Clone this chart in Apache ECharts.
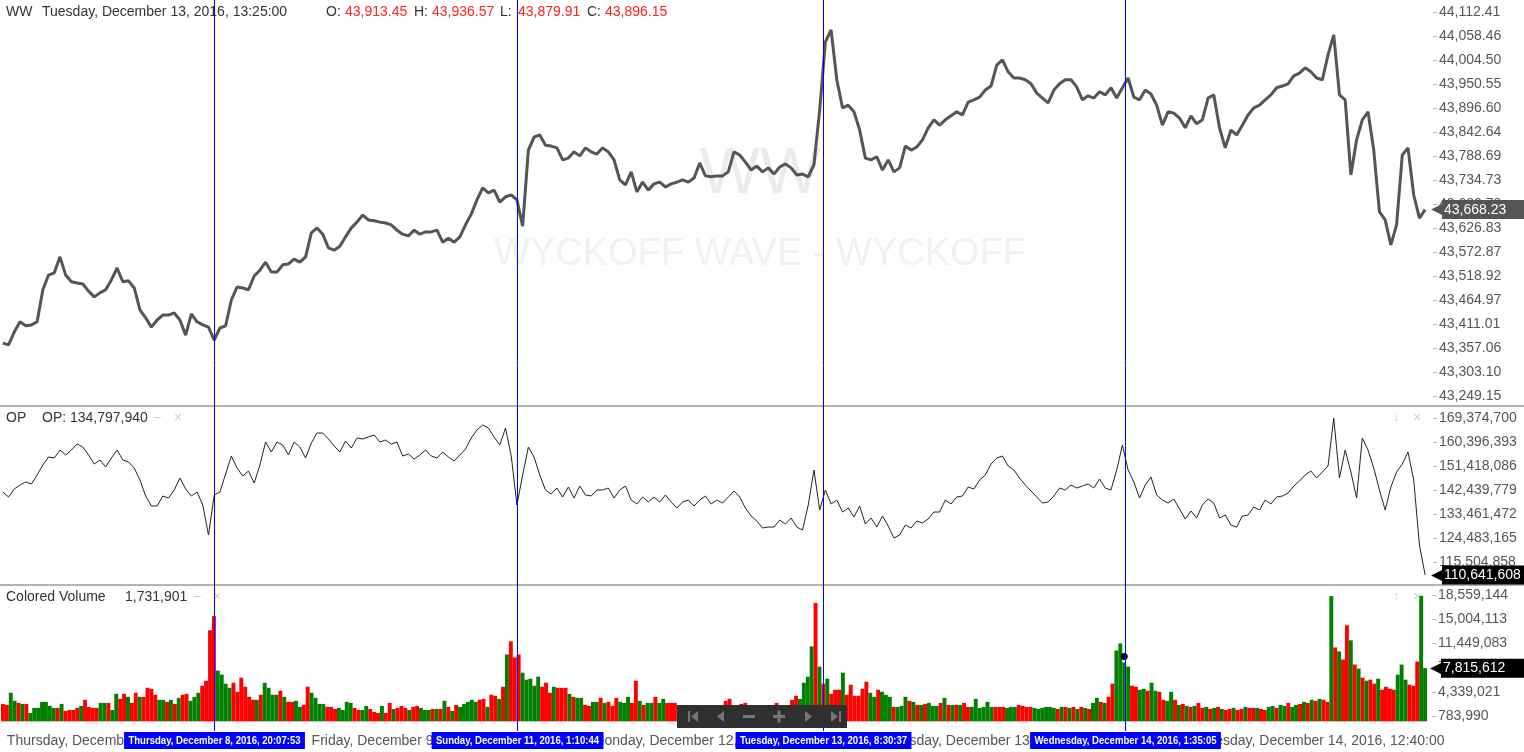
<!DOCTYPE html>
<html>
<head>
<meta charset="utf-8">
<title>WW - Wyckoff Wave</title>
<script src="https://cdn.jsdelivr.net/npm/echarts@6/dist/echarts.min.js"></script>
<style>
  html, body { margin: 0; padding: 0; background: #fff; }
  #chart { width: 1524px; height: 752px; }
</style>
</head>
<body>
<div id="chart"></div>
<script>
// WW close, one value per bar of the upper pane
var price = [
  43368, 43364, 43393, 43416, 43407, 43409, 43416, 43488, 43521, 43526,
  43562, 43521, 43506, 43503, 43501, 43485, 43472, 43481, 43488, 43510,
  43537, 43506, 43508, 43492, 43443, 43425, 43404, 43420, 43431, 43431,
  43436, 43420, 43386, 43434, 43416, 43409, 43404, 43375, 43402, 43407,
  43465, 43494, 43492, 43488, 43519, 43532, 43550, 43528, 43528, 43544,
  43546, 43557, 43550, 43562, 43616, 43627, 43613, 43582, 43577, 43586,
  43607, 43627, 43640, 43656, 43645, 43643, 43640, 43638, 43634, 43622,
  43613, 43609, 43622, 43613, 43618, 43618, 43622, 43595, 43604, 43595,
  43607, 43634, 43658, 43690, 43717, 43706, 43712, 43685, 43697, 43701,
  43690, 43631, 43802, 43831, 43836, 43813, 43811, 43807, 43780, 43784,
  43798, 43789, 43807, 43798, 43793, 43807, 43798, 43780, 43735, 43724,
  43753, 43708, 43730, 43712, 43726, 43730, 43719, 43726, 43730, 43735,
  43730, 43739, 43773, 43744, 43742, 43744, 43744, 43753, 43798, 43791,
  43775, 43757, 43766, 43753, 43762, 43748, 43764, 43771, 43762, 43746,
  43748, 43742, 43769, 43892, 44045, 44072, 43960, 43897, 43903, 43888,
  43847, 43784, 43780, 43787, 43757, 43780, 43753, 43762, 43811, 43802,
  43809, 43825, 43852, 43870, 43858, 43870, 43879, 43888, 43881, 43910,
  43915, 43921, 43937, 43946, 43993, 44005, 43978, 43964, 43964, 43960,
  43951, 43930, 43919, 43908, 43937, 43951, 43960, 43960, 43944, 43915,
  43924, 43919, 43933, 43926, 43942, 43919, 43942, 43964, 43921, 43915,
  43937, 43928, 43903, 43858, 43888, 43885, 43874, 43852, 43879, 43861,
  43870, 43919, 43926, 43852, 43807, 43847, 43836, 43858, 43881, 43897,
  43903, 43915, 43926, 43942, 43946, 43951, 43969, 43975, 43987, 43978,
  43964, 43960, 44016, 44061, 43926, 43915, 43746, 43825, 43870, 43888,
  43802, 43663, 43645, 43589, 43634, 43791, 43807, 43701, 43649, 43668.23
];

// OP indicator, same bars as the price
var op = [
  141690000, 139820000, 142810000, 144310000, 145430000, 144680000, 148050000, 151790000, 154780000, 154410000,
  157400000, 155530000, 157400000, 159640000, 158520000, 155530000, 152160000, 153660000, 151040000, 154410000,
  157400000, 153660000, 152910000, 150660000, 146180000, 140190000, 136450000, 136450000, 140190000, 139440000,
  142430000, 146920000, 142810000, 140190000, 141690000, 136820000, 125600000, 140560000, 141690000, 148420000,
  155150000, 150660000, 147670000, 149540000, 145050000, 151790000, 160390000, 156650000, 160390000, 159270000,
  155530000, 160390000, 158520000, 154410000, 160020000, 163760000, 163760000, 161510000, 158900000, 156650000,
  160770000, 158150000, 161890000, 161510000, 162260000, 163010000, 160390000, 161140000, 159640000, 160390000,
  155150000, 155900000, 154030000, 155530000, 157400000, 155150000, 154410000, 156650000, 154780000, 153280000,
  155530000, 157770000, 161890000, 164880000, 166750000, 165630000, 162260000, 159270000, 165630000, 155150000,
  136820000, 148050000, 158520000, 154780000, 148050000, 142430000, 140940000, 143180000, 139820000, 143560000,
  139440000, 143930000, 140560000, 140190000, 142430000, 142430000, 143180000, 139440000, 142430000, 143930000,
  138690000, 137200000, 139820000, 137950000, 139820000, 137950000, 140560000, 137950000, 135700000, 137950000,
  138690000, 136450000, 138690000, 140190000, 137200000, 138690000, 137570000, 139820000, 142060000, 139820000,
  135700000, 132710000, 130840000, 128220000, 128590000, 128590000, 131210000, 129720000, 131960000, 128590000,
  127470000, 136820000, 149920000, 134950000, 142430000, 137200000, 138690000, 134200000, 135700000, 132330000,
  136450000, 129720000, 131960000, 128590000, 132710000, 128970000, 124480000, 125600000, 129340000, 128220000,
  130840000, 130090000, 131590000, 134200000, 134200000, 138690000, 137200000, 139820000, 140190000, 143560000,
  142810000, 146180000, 148050000, 152160000, 154410000, 155150000, 151410000, 149920000, 146920000, 144310000,
  142060000, 139820000, 137570000, 137950000, 140190000, 143180000, 142430000, 144310000, 143180000, 143930000,
  144680000, 143180000, 146550000, 143180000, 142430000, 149920000, 159270000, 149920000, 145430000, 139440000,
  144310000, 147300000, 140560000, 138690000, 137570000, 139070000, 135330000, 131590000, 134580000, 131960000,
  136820000, 139070000, 137570000, 131960000, 133080000, 129340000, 128590000, 132710000, 133080000, 136080000,
  134950000, 138690000, 137200000, 139820000, 140190000, 141310000, 143930000, 145800000, 148050000, 149540000,
  146920000, 149170000, 151410000, 169370000, 146920000, 157400000, 149170000, 139440000, 161890000, 157400000,
  150660000, 142430000, 134950000, 143560000, 149170000, 152160000, 156650000, 146180000, 121860000, 110641608
];

// Colored Volume pane
var volume = [
  2560000, 2410000, 4190000, 3010000, 2710000, 2560000, 2560000, 1230000, 1970000, 1970000,
  2860000, 2860000, 2270000, 1970000, 1970000, 2560000, 1530000, 1670000, 1670000, 1970000,
  2270000, 3160000, 2120000, 1970000, 1970000, 2710000, 2710000, 2710000, 1670000, 4040000,
  3300000, 4040000, 3600000, 2710000, 4190000, 3600000, 3600000, 4930000, 4780000, 3900000,
  3160000, 3160000, 2860000, 3160000, 2560000, 3450000, 3900000, 4040000, 3010000, 3600000,
  4190000, 5230000, 5970000, 13380000, 15450000,
  7450000, 6860000, 5530000, 4930000, 5670000, 4340000, 6410000, 5080000, 3600000, 3160000,
  3160000, 3900000, 5670000, 4930000, 3900000, 3900000, 4490000, 3600000, 2860000, 2860000,
  3010000, 2120000, 2410000, 5080000, 4190000, 3450000, 2560000, 2560000, 2120000, 2120000,
  1820000, 1970000, 1670000, 2860000, 2710000, 1970000,
  1670000, 1670000, 2270000, 1820000, 1380000, 1230000, 2270000, 1230000, 2710000, 1820000,
  1970000, 2270000, 1970000, 1670000, 2120000, 2270000, 1970000, 1670000, 1670000, 1820000,
  1820000, 1820000, 3010000, 2120000, 1530000, 2410000, 2120000, 2560000, 2860000, 3160000,
  2860000, 3160000, 3300000, 2120000, 3900000, 3750000, 3300000, 5080000, 9820000, 11750000,
  9380000, 9820000, 7150000, 6120000, 6270000, 5230000, 6560000, 5080000, 5670000, 4190000,
  5080000, 4930000, 4930000, 4930000, 4040000, 3600000, 3450000, 3450000, 2410000, 2270000,
  2860000, 2860000, 3450000, 2710000, 2860000, 2270000, 3450000, 2860000, 2710000, 3600000,
  2710000, 5970000, 3010000, 2410000, 2710000, 2710000, 3600000, 2710000, 3300000, 2710000,
  2710000, 2710000, 2270000,
  1970000, 1820000, 1970000, 2120000, 1820000, 1970000, 2120000, 1970000, 2120000,
  2270000, 2410000, 3010000, 3300000, 2120000, 2120000, 2560000, 2710000, 2120000, 1970000,
  2120000, 1970000, 2120000, 1970000, 1970000, 2710000, 2120000, 2120000, 2270000, 3160000,
  3750000, 3300000, 5670000, 6560000, 11010000, 17380000, 8040000, 5530000, 6270000, 4040000,
  4640000, 4640000, 7150000, 3900000, 5380000, 3750000, 3750000, 4780000, 5820000, 4190000,
  3600000, 4640000, 4340000, 3900000, 3600000, 2120000, 2120000, 2270000, 3600000, 3010000,
  2860000, 2410000, 2410000, 2560000, 2710000, 2270000, 2270000, 2710000, 3450000, 2410000,
  2410000, 2410000, 2410000, 2710000, 2120000, 2120000, 3300000, 1970000, 2120000, 2860000,
  2120000, 2120000, 2120000, 2120000, 1970000, 2120000, 2120000, 2410000, 2270000, 2120000,
  2120000, 1970000, 1820000, 1970000, 2120000, 2120000, 1970000, 1820000, 2120000, 2120000,
  1970000, 2120000, 1820000,
  2120000, 1970000, 1820000, 2710000, 3450000, 2860000, 2710000, 3600000, 5530000, 10410000,
  11450000, 8640000, 8040000, 5230000, 5080000, 4640000, 4780000, 4490000, 5670000, 4490000,
  4340000, 3160000, 3010000, 4340000, 3160000,
  2410000, 2560000, 2270000, 2120000, 2270000, 2710000, 1970000, 2120000, 1820000, 1970000,
  2120000, 1820000, 1670000, 1820000, 1970000, 1670000, 1820000, 2120000, 1970000, 1970000,
  1970000, 1820000, 1670000, 2120000, 2270000, 1970000, 2410000, 2270000, 2710000, 2120000,
  2410000, 2560000, 2860000, 2710000, 3160000, 3010000, 3300000, 3160000, 2860000,
  18400000, 10860000, 10270000, 9080000, 14120000, 11900000, 8340000, 7750000, 6410000, 5970000,
  6120000, 5530000, 6270000, 4640000, 5080000, 4780000, 4640000, 6860000,
  8340000, 6120000, 5380000, 5230000, 8780000, 18450000, 7815612
];

// 1 = up bar (green), 0 = down bar (red)
var volumeUp = [
  0,0,1,1,0,1,0,1,1,1, 1,1,1,1,0,1,0,0,0,0, 1,0,0,0,0,1,1,0,1,1, 0,0,1,0,0,1,0,0,0,0, 1,1,0,1,0,1,0,0,1,1, 1,0,0,0,0,
  1,1,1,1,0,0,0,0,0,0, 1,0,1,1,1,1,0,1,0,0, 1,1,0,0,1,1,1,1,0,0, 0,1,1,1,1,0,
  0,1,1,0,0,0,1,0,0,1, 0,0,0,1,0,0,1,1,1,0, 1,0,1,0,1,0,1,1,1,1, 1,0,0,1,0,0,1,0,1,0,
  0,0,1,1,1,1,1,0,0,0, 1,0,0,0,1,0,1,1,0,0, 1,1,0,1,0,0,0,1,1,1, 0,0,1,0,1,1,0,1,1,0, 0,0,1,
  1,0,1,0,1,0,1,0,1, 1,1,0,0,1,1,0,0,1,0, 0,1,0,0,1,0,1,0,0,0,
  0,1,1,1,1,0,1,0,1,0, 0,0,1,0,0,0,0,0,0,1, 1,0,1,1,1,0,1,1,1,0, 1,0,1,0,1,1,1,0,1,0,
  1,0,1,0,0,1,1,1,1,1, 1,0,0,0,1,1,1,0,0,0, 0,1,1,1,1,1,1,0,1,0, 1,0,1,
  0,1,0,1,1,0,1,0,0,1, 1,1,1,0,0,1,1,0,1,1, 0,0,1,1,0,
  1,0,1,0,1,0,0,1,0,1, 0,1,0,0,1,0,0,1,0,0, 1,0,0,1,1,0,1,1,0,1, 1,0,1,0,1,0,1,0,0,
  1,0,1,0,0,1,0,1,0,1, 0,0,1,0,0,0,0,1, 1,1,0,0,0,1,1
];

// date labels on the time axis (position = volume bar index)
var xLabels = [
  { bar: 1, text: 'Thursday, December 8, 2016, 12:40:00' },
  { bar: 79, text: 'Friday, December 9, 2016, 12:40:00' },
  { bar: 151, text: 'Monday, December 12, 2016, 12:40:00' },
  { bar: 226, text: 'Tuesday, December 13, 2016, 12:40:00' },
  { bar: 301, text: 'Wednesday, December 14, 2016, 12:40:00' }
];

// blue cursor lines (position in volume bars) and their badges
var cursorAt = [54.5, 132.1, 210.4, 287.7];
var cursorLabels = [
  'Thursday, December 8, 2016, 20:07:53',
  'Sunday, December 11, 2016, 1:10:44',
  'Tuesday, December 13, 2016, 8:30:37',
  'Wednesday, December 14, 2016, 1:35:05'
];
// crosshair dot on the volume pane at the last cursor
var cursorDot = { bar: 287, value: 9520000 };

// header of the price pane
var headerTime = 'Tuesday, December 13, 2016, 13:25:00';
var headerOHLC = ['43,913.45', '43,936.57', '43,879.91', '43,896.15'];
var opHeader = 'OP: 134,797,940';
var volHeader = '1,731,901';

// right axis scales (tick labels start at min, step = interval)
var priceAxis = { min: 43249.15, max: 44112.41, interval: 53.95375 };
var opAxis = { min: 106526551, max: 169374700, interval: 8978307 };
var volAxis = { min: -2771040.45, max: 18559144.05, interval: 3555030.75 };

var FONT = '"Liberation Sans", Arial, sans-serif';
var BADGE_FONT = 'bold 11px "Liberation Sans", Arial, sans-serif';

var chart = echarts.init(document.getElementById('chart'));

var labelAt = {};
xLabels.forEach(function (d) { labelAt[d.bar] = d.text; });

function fmt2(v) {
  return v.toLocaleString('en-US', { minimumFractionDigits: 2, maximumFractionDigits: 2 });
}
function fmt0(v) {
  return Math.round(v).toLocaleString('en-US');
}

function rightAxis(grid, scale, formatter, hideMin) {
  return {
    type: 'value',
    gridIndex: grid,
    position: 'right',
    offset: 5,
    min: scale.min,
    max: scale.max,
    interval: scale.interval,
    axisLine: { show: false },
    axisTick: { show: true, length: 4, lineStyle: { color: '#b8b8b8' } },
    splitLine: { show: false },
    axisLabel: {
      color: '#555',
      fontSize: 14,
      fontFamily: FONT,
      margin: 6,
      showMinLabel: !hideMin,
      formatter: formatter
    }
  };
}

// last value badge on the right axis
function lastBadge(value, text, bg) {
  return {
    symbol: 'none',
    silent: true,
    animation: false,
    lineStyle: { color: 'rgba(0,0,0,0)', width: 1, type: 'solid' },
    label: {
      show: true,
      position: 'end',
      distance: 3,
      formatter: '{a|◀}{b|' + text + '}',
      rich: {
        a: { color: bg, fontSize: 17, lineHeight: 19, padding: [0, -2, 0, 0] },
        b: { backgroundColor: bg, color: '#fff', fontSize: 14, fontFamily: FONT, padding: [3, 20, 2, 2] }
      }
    },
    data: [{ yAxis: value }]
  };
}

function txt(x, y, text, color, size, z) {
  return {
    type: 'text', x: x, y: y, z: z == null ? 5 : z,
    style: {
      text: text, fill: color, font: (size || 14) + 'px ' + FONT,
      align: 'left', verticalAlign: 'middle'
    }
  };
}

var graphics = [
  // watermark
  {
    type: 'text', x: 760, y: 175, z: 0,
    style: { text: 'WW', fill: '#ebebeb', font: '64px ' + FONT, align: 'center', verticalAlign: 'middle' }
  },
  {
    type: 'text', x: 760, y: 255, z: 0,
    style: { text: 'WYCKOFF WAVE - WYCKOFF', fill: '#f1f1f1', font: '38px ' + FONT, align: 'center', verticalAlign: 'middle' }
  },
  // pane separators
  { type: 'rect', z: 5, shape: { x: 0, y: 405, width: 1524, height: 2 }, style: { fill: '#b4b4b4' } },
  { type: 'rect', z: 5, shape: { x: 0, y: 584, width: 1524, height: 2 }, style: { fill: '#b4b4b4' } },
  // price header
  txt(6, 12, 'WW', '#333'),
  txt(42, 12, headerTime, '#333'),
  txt(326, 12, 'O:', '#333'), txt(345, 12, headerOHLC[0], '#ff2020'),
  txt(414, 12, 'H:', '#333'), txt(432, 12, headerOHLC[1], '#ff2020'),
  txt(500, 12, 'L:', '#333'), txt(518, 12, headerOHLC[2], '#ff2020'),
  txt(587, 12, 'C:', '#333'), txt(605, 12, headerOHLC[3], '#ff2020'),
  // OP header
  txt(6, 418, 'OP', '#333'),
  txt(42, 418, opHeader, '#333'),
  txt(153, 418, '\u2212', '#ccc'),
  txt(174, 418, '\u00d7', '#ccc'),
  txt(1393, 418, '\u2193', '#ccc', 12),
  txt(1413, 418, '\u00d7', '#ccc'),
  // volume header
  txt(6, 597, 'Colored Volume', '#333'),
  txt(125, 597, volHeader, '#333'),
  txt(193, 597, '\u2212', '#ccc'),
  txt(213, 597, '\u00d7', '#ccc'),
  txt(1393, 597, '\u2191', '#ccc', 12),
  txt(1413, 597, '\u00d7', '#ccc'),
  // navigation toolbar
  { type: 'rect', z: 100, shape: { x: 677, y: 705, width: 170, height: 23 }, style: { fill: '#2f2f2f' } },
  { type: 'rect', z: 101, shape: { x: 688, y: 711, width: 2, height: 11 }, style: { fill: '#777' } },
  { type: 'polygon', z: 101, shape: { points: [[698, 711], [698, 722], [691, 716.5]] }, style: { fill: '#777' } },
  { type: 'polygon', z: 101, shape: { points: [[724, 711], [724, 722], [717, 716.5]] }, style: { fill: '#777' } },
  { type: 'rect', z: 101, shape: { x: 743, y: 715, width: 12, height: 3 }, style: { fill: '#777' } },
  { type: 'rect', z: 101, shape: { x: 773, y: 715, width: 12, height: 3 }, style: { fill: '#777' } },
  { type: 'rect', z: 101, shape: { x: 777.5, y: 710.5, width: 3, height: 12 }, style: { fill: '#777' } },
  { type: 'polygon', z: 101, shape: { points: [[805, 711], [805, 722], [812, 716.5]] }, style: { fill: '#777' } },
  { type: 'polygon', z: 101, shape: { points: [[831, 711], [831, 722], [838, 716.5]] }, style: { fill: '#777' } },
  { type: 'rect', z: 101, shape: { x: 839, y: 711, width: 2, height: 11 }, style: { fill: '#777' } }
];

var option = {
  animation: false,
  backgroundColor: '#fff',
  textStyle: { fontFamily: FONT },
  grid: [
    { left: 0, width: 1428, top: 12, height: 384 },
    { left: 0, width: 1428, top: 418, height: 168 },
    { left: 1, width: 1426, top: 595, height: 145.2 },
    { left: 1, width: 1426, top: 0, height: 731 }
  ],
  xAxis: [
    { type: 'category', gridIndex: 0, data: price.map(function (_, i) { return i; }), show: false },
    { type: 'category', gridIndex: 1, data: op.map(function (_, i) { return i; }), show: false },
    {
      type: 'category', gridIndex: 2,
      data: volume.map(function (_, i) { return i; }),
      axisLine: { show: false, onZero: false },
      axisTick: { show: false },
      axisLabel: {
        interval: function (i) { return labelAt[i] !== undefined; },
        formatter: function (v, i) { return labelAt[i] || ''; },
        align: 'left',
        verticalAlign: 'middle',
        margin: 1,
        color: '#555',
        fontSize: 14,
        fontFamily: FONT
      }
    },
    { type: 'value', gridIndex: 3, min: 0, max: volume.length, show: false }
  ],
  yAxis: [
    rightAxis(0, priceAxis, fmt2, false),
    rightAxis(1, opAxis, fmt0, true),
    rightAxis(2, volAxis, fmt0, true),
    { type: 'value', gridIndex: 3, min: 0, max: 1, show: false }
  ],
  series: [
    {
      name: 'WW',
      type: 'line',
      xAxisIndex: 0,
      yAxisIndex: 0,
      clip: false,
      data: price,
      symbol: 'none',
      lineStyle: { color: '#555', width: 3 },
      markLine: lastBadge(price[price.length - 1], fmt2(price[price.length - 1]), '#555')
    },
    {
      name: 'OP',
      type: 'line',
      xAxisIndex: 1,
      yAxisIndex: 1,
      clip: false,
      data: op,
      symbol: 'none',
      lineStyle: { color: '#222', width: 1 },
      markLine: lastBadge(op[op.length - 1], fmt0(op[op.length - 1]), '#000')
    },
    {
      name: 'Colored Volume',
      type: 'bar',
      xAxisIndex: 2,
      yAxisIndex: 2,
      clip: false,
      barCategoryGap: 0,
      data: volume.map(function (v, i) {
        return { value: v, itemStyle: { color: volumeUp[i] ? '#008000' : '#ff0000' } };
      }),
      markLine: lastBadge(volume[volume.length - 1], fmt0(volume[volume.length - 1]), '#000'),
      markPoint: {
        silent: true,
        animation: false,
        symbol: 'circle',
        symbolSize: 7,
        itemStyle: { color: '#000' },
        label: { show: false },
        data: [{ coord: [cursorDot.bar, cursorDot.value] }]
      }
    }
  ],
  graphic: graphics
};

chart.setOption(option);

// cursor lines and date badges, placed through the overlay grid's time scale
var cursorBottom = 731;
var cursorEls = [];
cursorAt.forEach(function (pos, i) {
  var x = Math.round(chart.convertToPixel({ xAxisIndex: 3 }, pos)) + 0.5;
  cursorEls.push({
    type: 'line', z: 50,
    shape: { x1: x, y1: 0, x2: x, y2: cursorBottom },
    style: { stroke: '#0000ff', lineWidth: 1 }
  });
  cursorEls.push({
    type: 'text', z: 51, x: x, y: cursorBottom + 9.5, scaleX: 0.87, scaleY: 1,
    style: {
      text: cursorLabels[i],
      fill: '#ffffff',
      font: BADGE_FONT,
      align: 'center',
      verticalAlign: 'middle',
      backgroundColor: '#0000ff',
      padding: [3, 5, 3, 5]
    }
  });
});
chart.setOption({ graphic: graphics.concat(cursorEls) });
</script>
</body>
</html>
